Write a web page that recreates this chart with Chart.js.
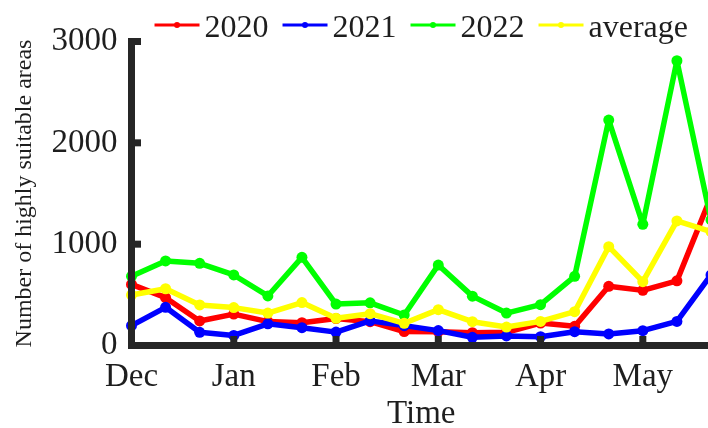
<!DOCTYPE html>
<html>
<head>
<meta charset="utf-8">
<script src="https://cdn.jsdelivr.net/npm/chart.js@4/dist/chart.umd.min.js"></script>
<style>
  html, body { margin: 0; padding: 0; background: #fff; overflow: hidden; }
  #wrap { position: relative; width: 708px; height: 428px; overflow: hidden; }
  canvas { display: block; }
</style>
</head>
<body>
<div id="wrap"><canvas id="chart" width="740" height="428"></canvas></div>
<script>
// Ten-day periods from December to May, three per month
const categories = ['Dec', 'Dec', 'Dec', 'Jan', 'Jan', 'Jan', 'Feb', 'Feb', 'Feb',
                    'Mar', 'Mar', 'Mar', 'Apr', 'Apr', 'Apr', 'May', 'May', 'May'];
const yTickValues = [0, 1000, 2000, 3000];
const seriesNames = ['2020', '2021', '2022', 'average'];

const values2020 = [603, 472, 242, 310, 236, 225, 266, 235, 137, 136, 126, 131, 221, 189, 584, 544, 638, 1469];
const values2021 = [196, 377, 130, 99, 214, 176, 132, 243, 196, 147, 81, 94, 87, 136, 114, 146, 238, 696];
const values2022 = [683, 835, 811, 696, 489, 870, 409, 421, 301, 794, 487, 320, 403, 683, 2225, 1196, 2810, 1239];
const valuesAverage = [498, 560, 400, 374, 320, 424, 268, 314, 219, 354, 235, 182, 238, 334, 975, 630, 1229, 1123];

const seriesColors = ['#ff0000', '#0000ff', '#00ff00', '#ffff00'];
const axisColor = '#262626';
const textColor = '#1e1e1e';
const serif = '"Liberation Serif", "Times New Roman", serif';

Chart.defaults.font.family = serif;
Chart.defaults.color = textColor;

function makeSeries(label, data, color, order) {
  return {
    label, data, order,
    borderColor: color,
    backgroundColor: color,
    borderWidth: 5.5,
    borderJoinStyle: 'round',
    borderCapStyle: 'round',
    pointRadius: 5.5,
    pointHoverRadius: 5.5,
    pointBorderWidth: 0,
    pointBackgroundColor: color,
    tension: 0,
    fill: false
  };
}

// Thick axis frame with inward tick marks, plus a line-and-dot legend
const framePlugin = {
  id: 'frame',
  afterDatasetsDraw(chart) {
    const { ctx, scales: { x, y } } = chart;
    const w = 7, stub = 6;
    const x0 = x.getPixelForTick(0);
    const y0 = y.getPixelForValue(yTickValues[0]);
    const yTop = y.getPixelForValue(yTickValues[yTickValues.length - 1]);
    ctx.save();
    ctx.fillStyle = axisColor;
    ctx.fillRect(x0 - w / 2, yTop - w / 2, w, y0 - yTop + w);
    ctx.fillRect(x0 - w / 2, y0 - w / 2, chart.width - x0 + w, w);
    yTickValues.forEach(v => {
      const py = y.getPixelForValue(v);
      ctx.fillRect(x0, py - w / 2, w / 2 + stub, w);
    });
    categories.forEach((c, i) => {
      if (i % 3 === 0) {
        const px = x.getPixelForTick(i);
        ctx.fillRect(px - w / 2, y0 - w / 2 - stub, w, stub + w / 2);
      }
    });
    ctx.restore();
  },
  afterDraw(chart) {
    const { ctx, chartArea: a } = chart;
    const lineLen = 45, gap = 5, sep = 14, lineY = 25, baseY = 36.5;
    ctx.save();
    ctx.font = '32px ' + serif;
    const items = chart.data.datasets.map(ds => ({
      label: ds.label, color: ds.borderColor, tw: ctx.measureText(ds.label).width
    }));
    const total = items.reduce((s, it) => s + lineLen + gap + it.tw, 0) + sep * (items.length - 1);
    let cx = (a.left + a.right) / 2 - total / 2;
    items.forEach(it => {
      ctx.strokeStyle = it.color;
      ctx.lineWidth = 3;
      ctx.beginPath();
      ctx.moveTo(cx, lineY);
      ctx.lineTo(cx + lineLen, lineY);
      ctx.stroke();
      ctx.fillStyle = it.color;
      ctx.beginPath();
      ctx.arc(cx + lineLen / 2, lineY, 3, 0, Math.PI * 2);
      ctx.fill();
      ctx.fillStyle = textColor;
      ctx.textBaseline = 'alphabetic';
      ctx.textAlign = 'left';
      ctx.fillText(it.label, cx + lineLen + gap, baseY);
      cx += lineLen + gap + it.tw + sep;
    });
    ctx.restore();
  }
};

new Chart(document.getElementById('chart'), {
  type: 'line',
  data: {
    labels: categories,
    datasets: [
      makeSeries(seriesNames[0], values2020, seriesColors[0], 4),
      makeSeries(seriesNames[1], values2021, seriesColors[1], 3),
      makeSeries(seriesNames[2], values2022, seriesColors[2], 2),
      makeSeries(seriesNames[3], valuesAverage, seriesColors[3], 1)
    ]
  },
  options: {
    responsive: false,
    animation: false,
    devicePixelRatio: 1,
    layout: { padding: { top: 41.5, right: 29, left: 0, bottom: 0 } },
    plugins: {
      legend: { display: false },
      tooltip: { enabled: false }
    },
    scales: {
      x: {
        type: 'category',
        offset: false,
        grid: { display: false, drawTicks: false },
        border: { display: false },
        ticks: {
          autoSkip: false,
          maxRotation: 0,
          padding: 12,
          font: { size: 33 },
          color: textColor,
          callback(value, index) {
            return index % 3 === 0 ? this.getLabelForValue(value) : '';
          }
        },
        title: {
          display: true,
          text: 'Time',
          font: { size: 33, lineHeight: 0.8 },
          color: textColor,
          padding: { top: 0, bottom: 0.4 }
        },
        afterFit(scale) { scale.height = 82.5; }
      },
      y: {
        min: 0,
        max: 3000,
        afterBuildTicks(scale) { scale.ticks = yTickValues.map(v => ({ value: v })); },
        grid: { display: false, drawTicks: false },
        border: { display: false },
        ticks: {
          padding: 14,
          font: { size: 33 },
          color: textColor,
          callback: v => String(v)
        },
        title: {
          display: true,
          text: 'Number of highly suitable areas',
          font: { size: 24 },
          color: textColor,
          padding: { top: 10.6, bottom: 0 }
        },
        afterFit(scale) { scale.width = 131.5; }
      }
    }
  },
  plugins: [framePlugin]
});
</script>
</body>
</html>
